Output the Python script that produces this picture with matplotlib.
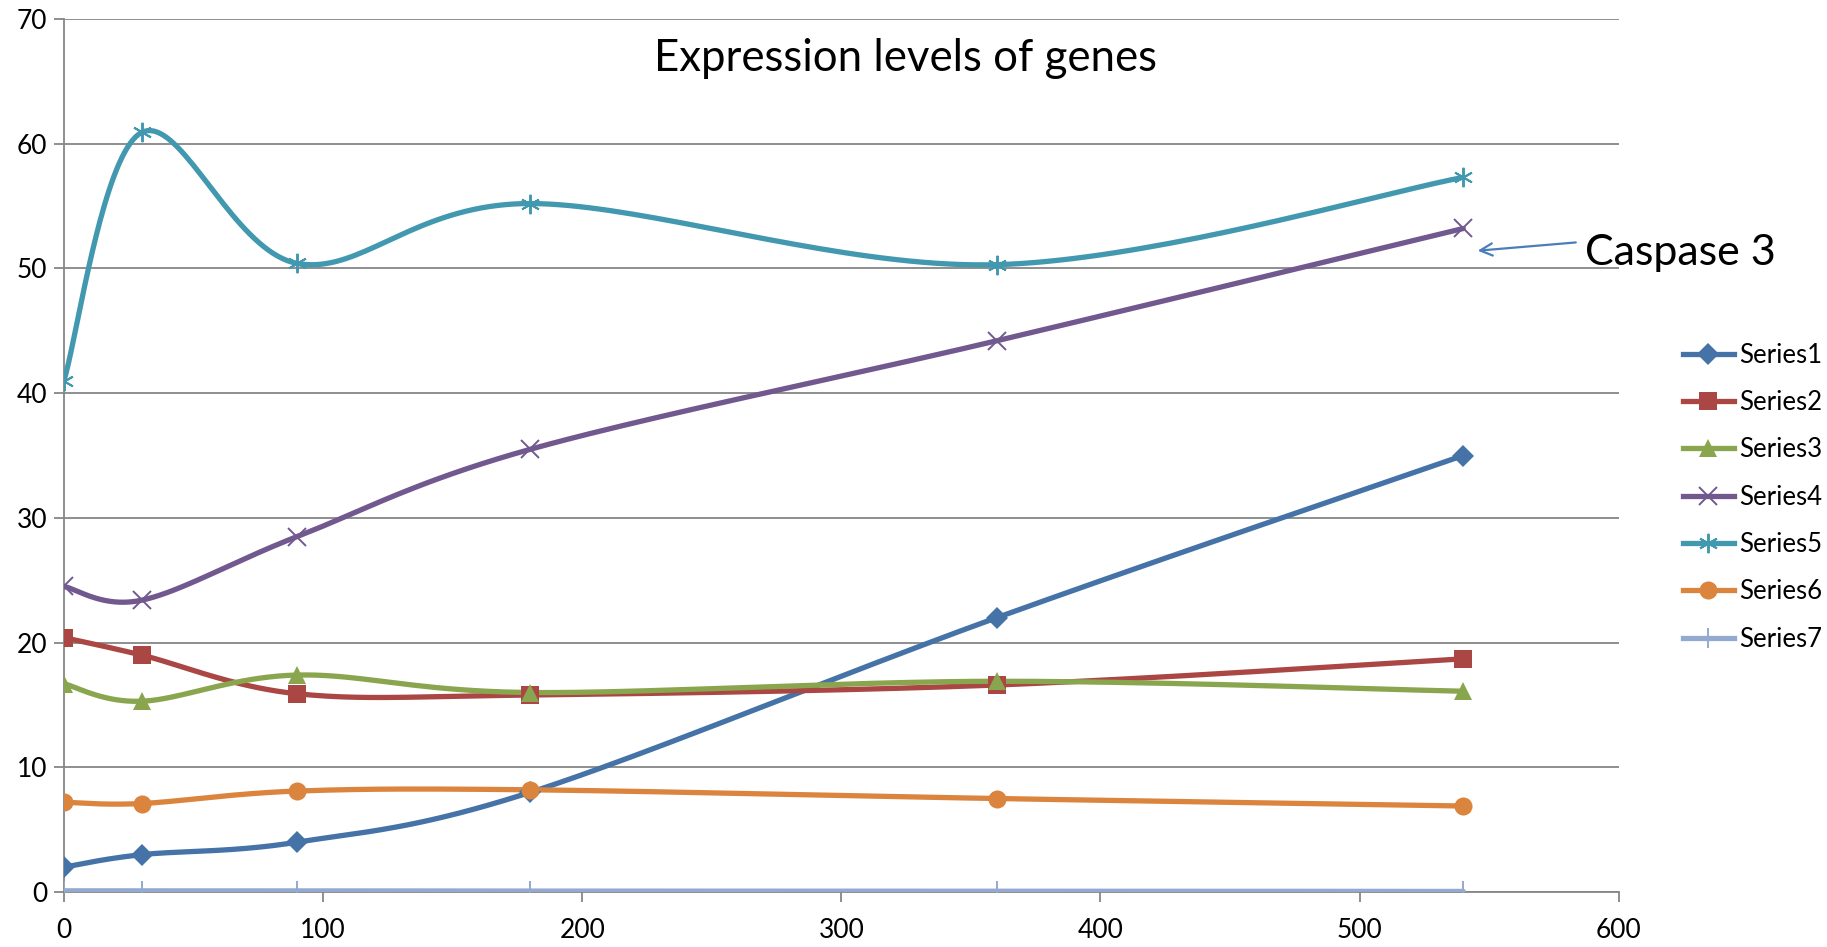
import numpy as np
import matplotlib
matplotlib.use("Agg")
import matplotlib.pyplot as plt

plt.rcParams["font.family"] = ["Lato", "DejaVu Sans"]

# Datos
time_points = [0, 30, 90, 180, 360, 540]
series1 = [2.0, 3.0, 4.0, 8.0, 22.0, 35.0]
series2 = [20.4, 19.0, 15.9, 15.8, 16.6, 18.7]
series3 = [16.7, 15.3, 17.4, 16.0, 16.9, 16.1]
series4 = [24.5, 23.4, 28.5, 35.5, 44.2, 53.2]
series5 = [41.0, 60.9, 50.4, 55.2, 50.3, 57.3]
series6 = [7.2, 7.1, 8.1, 8.2, 7.5, 6.9]
series7 = [0.1, 0.1, 0.1, 0.08, 0.08, 0.05]

labels = ["Series1", "Series2", "Series3", "Series4", "Series5", "Series6", "Series7"]
title = "Expression levels of genes"
note = "Caspase 3"


def smooth(xs, ys, n=40):
    """Excel tarzi yumusak cizgi (Catmull-Rom / Bezier)."""
    p = np.column_stack([xs, ys]).astype(float)
    p_ext = np.vstack([p[0], p, p[-1]])
    t = np.linspace(0, 1, n)[:, None]
    out = []
    for i in range(len(p) - 1):
        p0, p1, p2, p3 = p_ext[i], p_ext[i + 1], p_ext[i + 2], p_ext[i + 3]
        c1 = p1 + (p2 - p0) / 6
        c2 = p2 - (p3 - p1) / 6
        seg = ((1 - t) ** 3) * p1 + 3 * ((1 - t) ** 2) * t * c1 \
            + 3 * (1 - t) * t ** 2 * c2 + t ** 3 * p2
        out.append(seg if i == 0 else seg[1:])
    out = np.vstack(out)
    return out[:, 0], out[:, 1]


styles = [
    dict(color="#4572A7", marker="D", ms=11, mew=0),
    dict(color="#AA4643", marker="s", ms=13, mew=0),
    dict(color="#89A54E", marker="^", ms=13, mew=0),
    dict(color="#71588F", marker="x", ms=13, mew=1.4),
    dict(color="#4198AF", marker=(6, 2, 0), ms=14, mew=1.4),
    dict(color="#DB843D", marker="o", ms=13, mew=0),
    dict(color="#93A9CF", marker="|", ms=15, mew=1.4),
]

fig = plt.figure(figsize=(18.27, 9.47), dpi=100)
ax = fig.add_axes([0.035, 0.058, 0.851, 0.922])

all_series = [series1, series2, series3, series4, series5, series6, series7]
for vals, st, lab in zip(all_series, styles, labels):
    sx, sy = smooth(time_points, vals)
    ax.plot(sx, sy, color=st["color"], linewidth=3.8, solid_capstyle="round", zorder=3)
    ax.plot(time_points, vals, linestyle="none", marker=st["marker"],
            markersize=st["ms"], color=st["color"], markeredgewidth=st["mew"],
            markeredgecolor=st["color"], zorder=4)
    ax.plot([], [], color=st["color"], linewidth=3.8, marker=st["marker"],
            markersize=st["ms"], markeredgewidth=st["mew"],
            markeredgecolor=st["color"], label=lab)

ax.set_xlim(0, 600)
ax.set_ylim(0, 70)
ax.set_xticks(range(0, 601, 100))
ax.set_yticks(range(0, 71, 10))
ax.grid(axis="y", color="#868686", linewidth=1.3)
ax.set_axisbelow(True)
for s in ["top", "right"]:
    ax.spines[s].set_visible(False)
for s in ["left", "bottom"]:
    ax.spines[s].set_color("#868686")
    ax.spines[s].set_linewidth(1.3)
ax.tick_params(axis="both", colors="#868686", labelcolor="black",
               labelsize=19, length=7, width=1.3, direction="out")
ax.tick_params(axis="x", pad=12)
ax.tick_params(axis="y", pad=5)

ax.text(0.541, 0.955, title, transform=ax.transAxes, ha="center", va="center",
        fontsize=31.5)

ax.annotate("", xy=(544.5, 51.4), xytext=(584.5, 52.1),
            arrowprops=dict(arrowstyle="->", color="#4A7EBB", lw=1.6,
                            mutation_scale=22), annotation_clip=False)
ax.text(587, 51.2, note, fontsize=31, ha="left", va="center", clip_on=False)

fig.legend(loc="center left", bbox_to_anchor=(0.921, 0.475), frameon=False,
           fontsize=18.5, handlelength=2.0, handletextpad=0.2, labelspacing=0.87,
           borderpad=0, borderaxespad=0)

fig.savefig("out.png", dpi=100)
